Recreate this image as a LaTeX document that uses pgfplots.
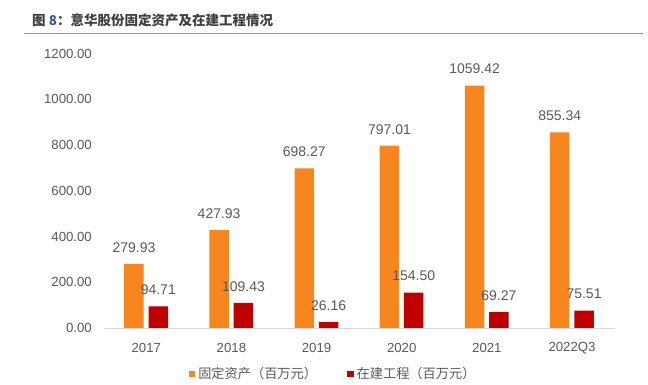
\documentclass[border=0pt]{standalone}
\usepackage{pgfplots}
\pgfplotsset{compat=1.18}
\usepackage{fontspec}
\setmainfont{Liberation Sans}
\newfontfamily\cjk{Noto Sans CJK SC}
\definecolor{barorange}{HTML}{F7861F}
\definecolor{barred}{HTML}{C00000}
\definecolor{txtgray}{HTML}{595959}
\definecolor{lineorange}{HTML}{ED7D31}
\definecolor{titlegray}{HTML}{3F3F3F}
\definecolor{titleblue}{HTML}{3A5A8C}
\begin{document}
\begin{tikzpicture}
\path[use as bounding box] (0,0) rectangle (648bp,385bp);
\node[anchor=west, inner sep=0pt, text=titlegray, font=\cjk\bfseries\fontsize{13.5bp}{15bp}\selectfont] at (32bp,365bp) {图 {\color{titleblue}8}：意华股份固定资产及在建工程情况};
\draw[lineorange, line width=1.1bp] (24bp,351.7bp) -- (643bp,351.7bp);
\begin{axis}[
  at={(103.7bp,57bp)}, anchor=south west,
  scale only axis, width=510.9bp, height=274.5bp,
  xmin=-0.5, xmax=5.5, ymin=0, ymax=1200,
  axis lines*=left,
  y axis line style={draw=none},
  x axis line style={draw=black!15, line width=1bp},
  tick style={draw=none},
  xtick={0,1,2,3,4,5},
  xticklabels={2017,2018,2019,2020,2021,2022Q3},
  ytick={0,200,400,600,800,1000,1200},
  /pgf/number format/assume math mode=true,
  /pgf/number format/fixed,
  /pgf/number format/fixed zerofill,
  /pgf/number format/precision=2,
  /pgf/number format/1000 sep={},
  yticklabel style={inner sep=0pt, anchor=east, xshift=-11.7bp, text=txtgray, font=\fontsize{13.2bp}{15bp}\selectfont},
  xticklabel style={inner sep=0pt, anchor=center, yshift=-16bp, text=txtgray, font=\fontsize{13.2bp}{15bp}\selectfont},
  scaled y ticks=false,
  ybar, bar width=19.5bp,
  nodes near coords,
  every node near coord/.append style={anchor=center, inner sep=0pt, yshift=16.5bp, text=txtgray, font=\fontsize{14bp}{16bp}\selectfont},
  legend columns=2,
  legend image code/.code={\fill[#1] (0bp,-3.3bp) rectangle (6.6bp,3.3bp);},
  legend style={at={(0.447,-0.1676)}, anchor=center, draw=none, fill=none,
    inner sep=0pt, outer sep=0pt,
    font=\cjk\fontsize{13.2bp}{15bp}\selectfont, text=txtgray,
    nodes={inner sep=0pt},
    /tikz/every odd column/.append style={column sep=3bp},
    /tikz/every even column/.append style={column sep=30bp}},
]
\addplot[fill=barorange, draw=none, bar shift=-12.3bp] coordinates {(0,279.93) (1,427.93) (2,698.27) (3,797.01) (4,1059.42) (5,855.34)};
\addplot[fill=barred, draw=none, bar shift=12bp] coordinates {(0,94.71) (1,109.43) (2,26.16) (3,154.50) (4,69.27) (5,75.51)};
\legend{固定资产（百万元）,在建工程（百万元）}
\end{axis}
\end{tikzpicture}
\end{document}
